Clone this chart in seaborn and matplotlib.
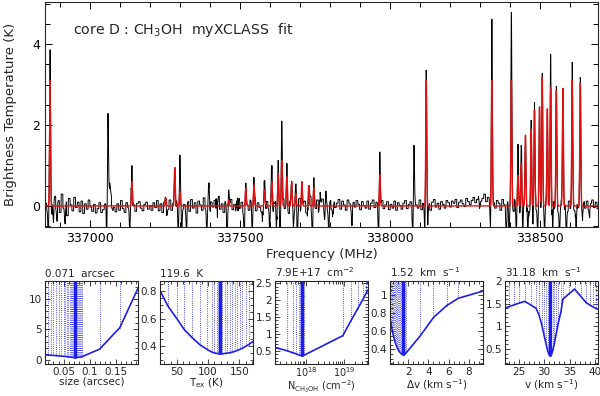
import numpy as np
import pandas as pd
import matplotlib
matplotlib.use("Agg")
import matplotlib.pyplot as plt
import seaborn as sns
from matplotlib.ticker import MultipleLocator, LogLocator, NullFormatter, FuncFormatter

# ---------------- data: spectrum ----------------
F_MIN, F_MAX = 336850.0, 338695.0
NOISE_STEP = 6.0  # MHz per noise value

# observed (black) emission lines
obs_freq = [336867, 337060, 337063, 337140, 337253, 337283, 337300, 337397, 337423, 337463,
            337490, 337520, 337547, 337583, 337607, 337628, 337640, 337657, 337673, 337687,
            337707, 337730, 337747, 337767, 337787, 337967, 338081, 338122, 338341, 338406,
            338428, 338439, 338453, 338472, 338483, 338500, 338509, 338526, 338537, 338556,
            338578, 338609, 338636]
obs_amp = [3.7, 1.9, 0.55, 1.09, 0.2, 0.95, 1.07, 0.72, 0.39, 0.33,
           0.27, 0.45, 0.52, 0.70, 1.16, 1.22, 2.22, 0.96, 0.6, 0.4,
           0.62, 0.54, 0.66, 0.3, 0.35, 1.30, 1.44, 3.40, 4.35, 4.69,
           1.42, 1.69, 1.81, 2.0, 2.37, 2.45, 3.18, 2.43, 3.87, 2.85,
           2.9, 3.38, 3.04]
obs_sigma = [1.6, 1.4, 5.0, 1.6, 1.6, 1.6, 1.6, 1.6, 1.6, 1.6,
             1.6, 1.6, 1.6, 1.6, 1.6, 1.6, 1.6, 1.6, 1.6, 1.6,
             1.6, 1.6, 1.6, 1.6, 1.6, 1.6, 1.6, 1.6, 1.6, 1.6,
             1.6, 1.6, 1.6, 1.6, 1.6, 1.6, 1.6, 1.6, 1.6, 1.6,
             1.6, 1.6, 1.6]

# observed absorption-like dips
dip_freq = [336861, 336878, 336890, 336917, 337056, 337133, 337256, 337294, 337306, 337322,
            337390, 337425, 337457, 337494, 337515, 337541, 337577, 337600, 337622, 337634,
            337679, 337692, 337728, 337742, 337783, 337797, 337811, 337874, 337963, 338077,
            338117, 338127, 338300, 338336, 338389, 338398, 338422, 338444, 338461, 338478,
            338494, 338517, 338544, 338567, 338589, 338622, 338644, 338667]
dip_amp = [-0.7, -0.45, -0.3, -0.55, -0.7, -0.7, -0.3, -0.7, -0.7, -0.55,
           -0.7, -0.3, -0.7, -0.35, -0.7, -0.7, -0.4, -0.7, -0.7, -0.7,
           -0.4, -0.7, -0.35, -0.7, -0.3, -0.7, -0.3, -0.42, -0.7, -0.7,
           -0.7, -0.45, -0.3, -0.7, -0.7, -0.7, -0.7, -0.7, -0.7, -0.4,
           -0.7, -0.7, -0.7, -0.7, -0.7, -0.7, -0.3, -0.2]

# baseline noise (units of 0.0133 K), one value per 6 MHz
noise_val = [5, -8, 12, -15, 3, 18, -6, 10, -12, 22, -4, 8, -18, 14, 2, -9, 16, -3, 7, -11,
             9, -14, 4, -6, 11, -2, -10, 3, -13, -5, 6, -12, -7, 2, -15, -4, 8, -9, -3, -11,
             4, -8, 10, -5, -12, 6, -3, 9, -7, 2, -10, 5, 8, -4, -9, 3, 7, -6, 1, -8,
             6, -3, 10, -9, 4, -12, 7, 2, -6, 11, -8, 5, -2, 9, -11, 14, -5, 3, -7, 8,
             -10, 12, -4, 6, -13, 9, 2, -8, 15, -5, 3, -11, 7, -2, 10, -9, 18, -6, 4, -12,
             8, -14, 5, 12, -7, 3, -10, 16, -4, 7, -13, 9, 2, -8, 11, -5, 14, -9, 6, -3,
             -11, 13, -6, 8, -4, 15, -12, 5, 10, -7, 3, -9, 12, -5, 7, -14, 9, 1, -8, 11,
             -6, 14, -10, 4, 9, -13, 6, 18, -8, 3, -5, 11, -12, 7, 13, -4, 2, -9, 10, -6,
             8, -3, 5, 12, -6, 9, 2, -8, 11, 4, -5, 7, -2, 10, 3, -7, 8, 1, -4, 9,
             -6, 5, 11, -3, 7, -9, 4, 10, -5, 2, 8, -7, 3, -4, 9, -8, 6, 1, -6, 5,
             10, -5, 3, 8, -9, 6, 2, -4, 11, -7, 5, 9, -3, 4, -8, 7, 12, -2, 5, -6,
             8, 3, -4, 10, 6, -2, 9, 5, 12, -3, 7, 11, 4, -1, 14, 8, 2, 10, 16, 6,
             12, 18, 9, 14, 22, 8, 16, 11, 20, 6, -4, 10, 5, -8, 12, 3, -6, 9, -3, 7,
             -10, 12, -6, 8, -14, 5, 10, -9, 3, -12, 9, -5, 14, -8, 4, -11, 7, -3, 10, -13,
             6, -9, 12, -4, 8, -12, 5, 11, -7, 3, -10, 9, -5, 13, -8, 6, -3, 10, -6, 8,
             -4, 9, -7, 5, 11, -3, 7, -5]
NOISE_UNIT = 1.0 / 75.0

# model (red) lines
mod_freq = [336867, 337140, 337253, 337283, 337300, 337463, 337520, 337547, 337583, 337607,
            337628, 337640, 337657, 337673, 337687, 337707, 337730, 337747, 337967, 338122,
            338341, 338406, 338428, 338439, 338453, 338472, 338483, 338500, 338509, 338526,
            338537, 338556, 338578, 338609, 338636]
mod_amp = [3.1, 0.6, 0.2, 0.95, 0.33, 0.15, 0.44, 0.52, 0.4, 0.6,
           0.8, 1.12, 0.72, 0.58, 0.3, 0.6, 0.5, 0.45, 0.78, 3.11,
           3.11, 3.11, 0.75, 1.05, 1.75, 1.9, 2.37, 2.45, 3.18, 2.4,
           2.93, 2.85, 2.9, 3.11, 3.04]

# ---------------- data: chi^2 panels ----------------
size_vals = [0.014, 0.02, 0.025, 0.03, 0.035, 0.04, 0.045, 0.05, 0.053, 0.056, 0.059, 0.062,
             0.064, 0.066, 0.068, 0.069, 0.070, 0.071, 0.072, 0.073, 0.074, 0.075, 0.077,
             0.079, 0.081, 0.083, 0.085, 0.119, 0.158, 0.193]
size_chi = [0.80, 0.78, 0.75, 0.72, 0.69, 0.65, 0.61, 0.57, 0.54, 0.51, 0.48, 0.45,
            0.43, 0.41, 0.39, 0.38, 0.37, 0.36, 0.365, 0.37, 0.38, 0.39, 0.40,
            0.42, 0.44, 0.47, 0.50, 1.75, 5.3, 11.8]

tex_vals = [23, 36, 50, 62, 75, 87, 99, 106, 110, 114, 116, 118, 119.6, 121, 123, 127, 131,
            135, 139, 143, 147, 151, 155, 160, 165, 172]
tex_chi = [0.805, 0.69, 0.60, 0.52, 0.46, 0.41, 0.375, 0.357, 0.351, 0.347, 0.346, 0.345,
           0.345, 0.345, 0.345, 0.347, 0.349, 0.352, 0.357, 0.362, 0.369, 0.377, 0.385,
           0.398, 0.412, 0.434]

ncol_vals = [1.5e17, 3.2e17, 4.5e17, 5.5e17, 6.3e17, 6.9e17, 7.4e17, 7.9e17, 8.3e17, 8.8e17,
             9.3e18, 1.5e19, 2.3e19, 3.2e19, 3.8e19, 4.3e19]
ncol_chi = [0.60, 0.50, 0.44, 0.41, 0.38, 0.37, 0.36, 0.35, 0.36, 0.37,
            0.95, 1.38, 1.75, 2.04, 2.2, 2.3]

dv_vals = [0.2, 0.3, 0.4, 0.5, 0.6, 0.7, 0.8, 0.9, 1.0, 1.1, 1.2, 1.3, 1.4, 1.5, 1.52, 1.55,
           1.6, 1.7, 1.8, 3.2, 4.5, 5.8, 6.95, 9.4]
dv_chi = [0.74, 0.68, 0.62, 0.57, 0.52, 0.48, 0.45, 0.42, 0.40, 0.38, 0.365, 0.355, 0.347,
          0.343, 0.342, 0.343, 0.345, 0.352, 0.362, 0.55, 0.75, 0.88, 0.96, 1.04]

v_vals = [22.3, 23.0, 24.0, 25.0, 26.2, 27.4, 28.4, 29.0, 29.5, 30.0, 30.4, 30.7, 31.0,
          31.18, 31.4, 31.7, 32.0, 32.4, 32.8, 33.3, 33.7, 34.8, 36.0, 37.3, 38.3, 39.0,
          39.6, 40.3, 40.6]
v_chi = [1.40, 1.43, 1.47, 1.51, 1.55, 1.47, 1.40, 1.25, 1.05, 0.80, 0.60, 0.46, 0.37,
         0.35, 0.37, 0.47, 0.62, 0.85, 1.08, 1.32, 1.60, 1.71, 1.82, 1.65, 1.52, 1.47,
         1.43, 1.39, 1.38]

best = {"size": 0.071, "tex": 119.6, "ncol": 7.9e17, "dv": 1.52, "v": 31.18}
titles = ["0.071  arcsec", "119.6  K", "7.9E+17  cm$^{-2}$", "1.52  km  s$^{-1}$",
          "31.18  km  s$^{-1}$"]
xlabels = ["size (arcsec)", "T$_{\\rm ex}$ (K)", "N$_{\\rm CH_3OH}$ (cm$^{-2}$)",
           "\u0394v (km s$^{-1}$)", "v (km s$^{-1}$)"]

# ---------------- build spectra ----------------
freq = np.arange(F_MIN, F_MAX, 0.5)


def profile(centres, amps, sigmas):
    out = np.zeros_like(freq)
    for c, a, s in zip(centres, amps, sigmas):
        out += a * np.exp(-0.5 * ((freq - c) / s) ** 2)
    return out


noise_arr = np.array(noise_val, dtype=float) * NOISE_UNIT
idx = np.clip(((freq - F_MIN) // NOISE_STEP).astype(int), 0, len(noise_arr) - 1)
obs = (profile(obs_freq, obs_amp, obs_sigma)
       + profile(dip_freq, dip_amp, [1.5] * len(dip_freq))
       + noise_arr[idx])
model = profile(mod_freq, mod_amp, [1.6] * len(mod_freq))

spec = pd.DataFrame({"freq": freq, "obs": obs, "model": model})

# ---------------- figure ----------------
sns.set_theme(style="ticks")
plt.rcParams['font.family'] = ['DejaVu Sans']
plt.rcParams['mathtext.default'] = 'regular'
plt.rcParams['axes.linewidth'] = 0.8

fig = plt.figure(figsize=(6.0, 3.96), dpi=100)
W, H = 600.0, 396.0

ax = fig.add_axes([45 / W, 1 - 227 / H, 553 / W, 225 / H])
sns.lineplot(data=spec, x="freq", y="obs", ax=ax, color="black", lw=0.7,
             estimator=None, sort=False)
sns.lineplot(data=spec, x="freq", y="model", ax=ax, color="#e01010", lw=1.0,
             estimator=None, sort=False)
ax.set_xlim(F_MIN, F_MAX)
ax.set_ylim(-0.52, 5.04)
ax.xaxis.set_major_locator(MultipleLocator(500))
ax.xaxis.set_minor_locator(MultipleLocator(100))
ax.yaxis.set_major_locator(MultipleLocator(2))
ax.yaxis.set_minor_locator(MultipleLocator(0.5))
ax.tick_params(which="both", direction="in", top=True, right=True, labelsize=9,
               width=0.7, colors="black")
ax.tick_params(which="major", length=5)
ax.tick_params(which="minor", length=3.5)
ax.set_xlabel("Frequency (MHz)", fontsize=9.5, labelpad=2)
ax.set_ylabel("Brightness Temperature (K)", fontsize=9.5, labelpad=11)
ax.text(0.05, 0.875, "core D : CH$_3$OH  myXCLASS  fit", transform=ax.transAxes,
        fontsize=10.2, ha="left", va="center")

blue = "#1e1ee6"
panels = [
    (size_vals, size_chi, best["size"], (0.014, 0.193), (-0.7, 13.0), 0.05, 0.01, 5, 1, False),
    (tex_vals, tex_chi, best["tex"], (23, 172), (0.27, 0.875), 50, 10, 0.2, 0.05, False),
    (ncol_vals, ncol_chi, best["ncol"], (1.5e17, 4.3e19), (0.11, 2.57), None, None, 0.5, 0.1, True),
    (dv_vals, dv_chi, best["dv"], (0.2, 9.4), (0.24, 1.15), 2, 0.5, 0.2, 0.05, False),
    (v_vals, v_chi, best["v"], (22.3, 40.6), (0.17, 2.0), 5, 1, 0.5, 0.1, False),
]
gfmt = FuncFormatter(lambda v, p: "%g" % round(v, 6))
lefts = [45, 160, 275, 390, 505]
for i, (xv, yv, bx, xl, yl, xmaj, xmin_, ymaj, ymin_, logx) in enumerate(panels):
    a = fig.add_axes([lefts[i] / W, 1 - 364.0 / H, 93 / W, 83 / H])
    if logx:
        a.set_xscale("log")
    a.set_xlim(*xl)
    a.set_ylim(*yl)
    top = yl[1]
    a.vlines(xv, yv, top, colors=blue, linestyles=(0, (1.0, 1.6)), lw=0.6)
    bi = int(np.argmin(np.abs(np.array(xv) - bx)))
    a.vlines([xv[bi]], [yv[bi]], top, colors=blue, lw=2.4)
    df = pd.DataFrame({"x": xv, "y": yv})
    sns.lineplot(data=df, x="x", y="y", ax=a, color=blue, lw=1.2,
                 estimator=None, sort=False)
    if logx:
        a.xaxis.set_major_locator(LogLocator(base=10))
        a.xaxis.set_minor_locator(LogLocator(base=10, subs=np.arange(2, 10)))
        a.xaxis.set_minor_formatter(NullFormatter())
    else:
        a.xaxis.set_major_locator(MultipleLocator(xmaj))
        a.xaxis.set_minor_locator(MultipleLocator(xmin_))
        a.xaxis.set_major_formatter(gfmt)
    a.yaxis.set_major_locator(MultipleLocator(ymaj))
    a.yaxis.set_minor_locator(MultipleLocator(ymin_))
    a.yaxis.set_major_formatter(gfmt)
    a.tick_params(which="both", direction="in", top=True, right=True, labelsize=7.5,
                  width=0.6, pad=2)
    a.tick_params(which="major", length=3.5)
    a.tick_params(which="minor", length=2)
    if logx:
        a.tick_params(axis="x", which="both", labelsize=7, pad=1)
        a.set_xlabel(xlabels[i], fontsize=7, labelpad=-0.5)
    else:
        a.set_xlabel(xlabels[i], fontsize=7.5, labelpad=0)
    a.set_ylabel("")
    a.set_title(titles[i], loc="left", fontsize=7.5, pad=3)

fig.savefig("out.png", dpi=100)
